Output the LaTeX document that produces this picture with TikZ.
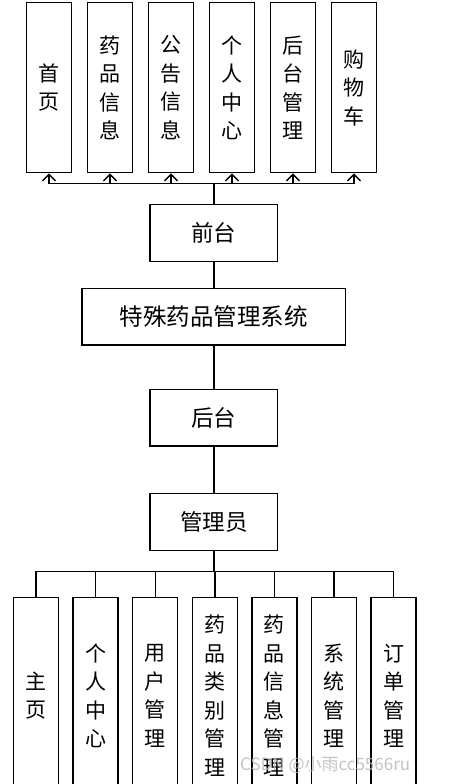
\documentclass[tikz,border=0pt]{standalone}
\usepackage{fontspec}
\newfontfamily\cjk{Noto Sans CJK SC}
\usetikzlibrary{arrows.meta}
\begin{document}
\begin{tikzpicture}[x=1pt,y=-1pt,
  ln/.style={line width=1.4pt},
  vbox/.style={draw, line width=1.4pt, inner sep=0pt, minimum width=45pt, align=center,
    font=\cjk\fontsize{21}{28.5}\selectfont},
  topbox/.style={vbox, minimum height=170pt},
  botbox/.style={vbox, minimum height=196pt},
  hbox/.style={draw, line width=1.4pt, inner sep=0pt, minimum width=127.5pt, minimum height=56.5pt,
    font=\cjk\fontsize{22.5}{26}\selectfont},
  arr/.style={ln, -{Straight Barb[length=6.5pt,width=13pt,line width=1.4pt]}}
]
\useasboundingbox (0,0) rectangle (450,784);
\fill[white] (0,0) rectangle (450,784);
\clip (0,0) rectangle (450,784);

% top boxes
\node[topbox] (t1) at (49,87.7) {首\\页};
\node[topbox] (t2) at (110,87.7) {药\\品\\信\\息};
\node[topbox] (t3) at (171,87.7) {公\\告\\信\\息};
\node[topbox] (t4) at (232,87.7) {个\\人\\中\\心};
\node[topbox] (t5) at (293,87.7) {后\\台\\管\\理};
\node[topbox] (t6) at (354,87.7) {购\\物\\车};

% middle column
\node[hbox] (qt) at (213.8,233) {前台};
\node[hbox, minimum width=263.7pt, font=\cjk\fontsize{23.5}{26}\selectfont] (sys) at (213.8,316.8) {特殊药品管理系统};
\node[hbox] (ht) at (213.8,417.8) {后台};
\node[hbox] (gly) at (213.8,522) {管理员};

% bottom boxes
\node[botbox] (b1) at (36,695.7) {主\\页};
\node[botbox] (b2) at (95.6,695.7) {个\\人\\中\\心};
\node[botbox] (b3) at (155.2,695.7) {用\\户\\管\\理};
\node[botbox] (b4) at (214.8,695.7) {药\\品\\类\\别\\管\\理};
\node[botbox] (b5) at (274.4,695.7) {药\\品\\信\\息\\管\\理};
\node[botbox] (b6) at (334,695.7) {系\\统\\管\\理};
\node[botbox] (b7) at (393.6,695.7) {订\\单\\管\\理};

% buses
\coordinate (bus) at (213.8,183.3);
\coordinate (busb) at (213.8,571.3);

\foreach \n in {t1,t2,t3,t4,t5,t6}
  \draw[arr] (qt.north) -- (qt.north |- bus) -| (\n.south);

\draw[ln] (qt.south) -- (sys.north);
\draw[ln] (sys.south) -- (ht.north);
\draw[ln] (ht.south) -- (gly.north);

\foreach \n in {b1,b2,b3,b4,b5,b6,b7}
  \draw[ln] (gly.south) -- (gly.south |- busb) -| (\n.north);

% watermark
\node[anchor=west, inner sep=0pt, text=gray!55, opacity=0.85,
  font=\cjk\fontsize{17}{17}\selectfont] (wm) at (240,765) {CSDN @小雨cc5566ru};
\end{tikzpicture}
\end{document}
